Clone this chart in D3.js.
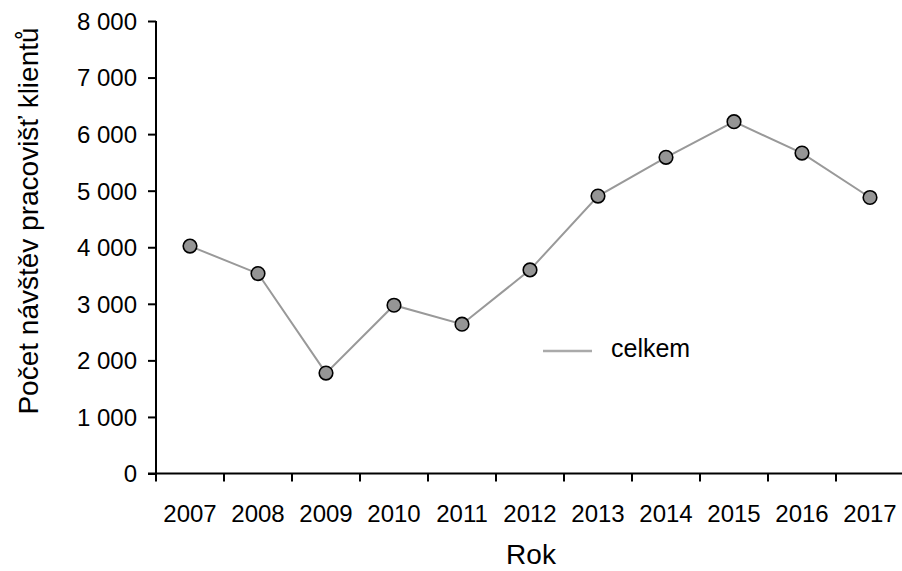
<!DOCTYPE html>
<html>
<head>
<meta charset="utf-8">
<script src="https://cdn.jsdelivr.net/npm/d3@7"></script>
<style>
  body { margin: 0; background: #fff; }
  text { font-family: Arial, "Liberation Sans", sans-serif; fill: #000; }
</style>
</head>
<body>
<div id="chart"></div>
<script>
// data
const years = ["2007", "2008", "2009", "2010", "2011", "2012", "2013", "2014", "2015", "2016", "2017"];
const celkem = [4020, 3535, 1775, 2975, 2640, 3600, 4905, 5590, 6220, 5665, 4880];
const yTicks = [0, 1000, 2000, 3000, 4000, 5000, 6000, 7000, 8000];
const seriesName = "celkem";
const xTitle = "Rok";
const yTitle = "Počet návštěv pracovišť klientů";

const width = 902, height = 571;
const margin = { left: 156, top: 21, right: -2, bottom: 97.5 };

const svg = d3.select("#chart")
  .append("svg")
  .attr("width", width)
  .attr("height", height);

const x = d3.scaleBand()
  .domain(years)
  .range([margin.left, width - margin.right]);

const y = d3.scaleLinear()
  .domain([0, 8000])
  .range([height - margin.bottom, margin.top]);

const fmt = d3.formatLocale({ decimal: ",", thousands: "\u00a0", grouping: [3], currency: ["", " Kč"] }).format(",d");

// y axis
const yAxis = svg.append("g")
  .attr("transform", "translate(" + margin.left + ",0)")
  .call(d3.axisLeft(y).tickValues(yTicks).tickFormat(fmt).tickSize(8).tickPadding(11));
yAxis.select(".domain").attr("stroke", "#000").attr("stroke-width", 2).attr("d", "M0," + y(8000) + "V" + y(0));
yAxis.selectAll(".tick line").attr("stroke-width", 2);
yAxis.selectAll(".tick text").style("font-size", "24px").attr("dy", "0.35em");

// x axis: ticks on band boundaries
const bounds = years.map(d => x(d)).concat([x.range()[1]]);
const xAxis = svg.append("g")
  .attr("transform", "translate(0," + y(0) + ")");
xAxis.append("path")
  .attr("d", "M" + (margin.left - 8) + ",0H" + x.range()[1])
  .attr("stroke", "#000").attr("stroke-width", 2).attr("fill", "none");
xAxis.selectAll("line.tk")
  .data(bounds)
  .enter()
  .append("line")
  .attr("class", "tk")
  .attr("x1", d => d).attr("x2", d => d)
  .attr("y1", 0).attr("y2", 8)
  .attr("stroke", "#000").attr("stroke-width", 2);
xAxis.selectAll("text")
  .data(years)
  .enter()
  .append("text")
  .attr("x", d => x(d) + x.bandwidth() / 2)
  .attr("y", 48)
  .attr("text-anchor", "middle")
  .style("font-size", "24px")
  .text(d => d);

// line
const line = d3.line()
  .x((d, i) => x(years[i]) + x.bandwidth() / 2)
  .y(d => y(d));

svg.append("path")
  .datum(celkem)
  .attr("d", line)
  .attr("fill", "none")
  .attr("stroke", "#999")
  .attr("stroke-width", 2);

svg.selectAll("circle.pt")
  .data(celkem)
  .enter()
  .append("circle")
  .attr("class", "pt")
  .attr("cx", (d, i) => x(years[i]) + x.bandwidth() / 2)
  .attr("cy", d => y(d))
  .attr("r", 6.8)
  .attr("fill", "#959595")
  .attr("stroke", "#000")
  .attr("stroke-width", 1.6);

// legend
const leg = svg.append("g").attr("transform", "translate(543,351)");
leg.append("line")
  .attr("x1", 0).attr("x2", 49)
  .attr("stroke", "#aaa").attr("stroke-width", 2.5);
leg.append("text")
  .attr("x", 68).attr("y", 6)
  .style("font-size", "25px")
  .text(seriesName);

// titles
svg.append("text")
  .attr("x", 531)
  .attr("y", 564)
  .attr("text-anchor", "middle")
  .style("font-size", "28px")
  .text(xTitle);

svg.append("text")
  .attr("transform", "translate(38,221) rotate(-90)")
  .attr("text-anchor", "middle")
  .style("font-size", "28px")
  .text(yTitle);
</script>
</body>
</html>
